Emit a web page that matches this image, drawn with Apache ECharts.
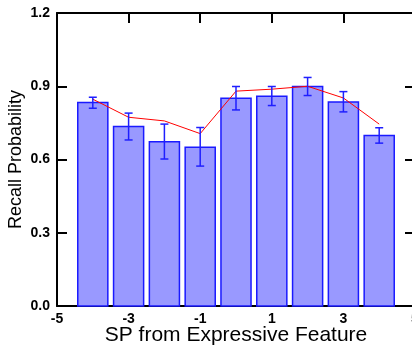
<!DOCTYPE html>
<html>
<head>
<meta charset="utf-8">
<script src="https://cdn.jsdelivr.net/npm/echarts@6/dist/echarts.min.js"></script>
<style>
  html, body { margin: 0; padding: 0; background: #fff; }
  #chart { width: 412px; height: 347px; }
</style>
</head>
<body>
<div id="chart"></div>
<script>
// Serial position relative to the expressive feature
const positions = [-4, -3, -2, -1, 0, 1, 2, 3, 4];
// Mean recall probability per position (bars)
const recall = [0.833, 0.735, 0.673, 0.650, 0.851, 0.859, 0.899, 0.836, 0.698];
// Error bar bounds
const errLow = [0.810, 0.680, 0.602, 0.573, 0.803, 0.821, 0.862, 0.795, 0.667];
const errHigh = [0.855, 0.790, 0.745, 0.731, 0.899, 0.899, 0.936, 0.878, 0.730];
// Model prediction (red line)
const model = [0.847, 0.773, 0.758, 0.706, 0.880, 0.888, 0.900, 0.852, 0.745];

const barData = positions.map((x, i) => [x, recall[i]]);
const errData = positions.map((x, i) => [x, errLow[i], errHigh[i]]);
const lineData = positions.map((x, i) => [x, model[i]]);

const chart = echarts.init(document.getElementById('chart'), null, { renderer: 'canvas' });

const tickLabel = { fontFamily: 'Liberation Sans', fontWeight: 'bold', fontSize: 14, color: '#000' };
const axisLine = { show: true, onZero: false, lineStyle: { color: '#000', width: 2 } };
const axisTick = { show: true, inside: true, length: 10, lineStyle: { color: '#000', width: 2 } };

chart.setOption({
  animation: false,
  grid: { left: 57, right: -3, top: 13, bottom: 41, containLabel: false, outerBoundsMode: 'none' },
  xAxis: [
    {
      type: 'value', position: 'bottom', min: -5, max: 5, interval: 2,
      axisLine, axisTick, splitLine: { show: false },
      axisLabel: Object.assign({ margin: 6, hideOverlap: false }, tickLabel),
      name: 'SP from Expressive Feature', nameLocation: 'middle', nameGap: 19,
      nameMoveOverlap: false,
      nameTextStyle: { fontFamily: 'Liberation Sans', fontSize: 21, color: '#000' }
    },
    {
      type: 'value', position: 'top', min: -5, max: 5, interval: 2,
      axisLine, axisTick, splitLine: { show: false }, axisLabel: { show: false }
    }
  ],
  yAxis: [
    {
      type: 'value', position: 'left', min: 0, max: 1.2, interval: 0.3,
      axisLine, axisTick, splitLine: { show: false },
      axisLabel: Object.assign({ margin: 7, formatter: v => v.toFixed(1) }, tickLabel),
      name: 'Recall Probability', nameLocation: 'middle', nameGap: 32,
      nameMoveOverlap: false,
      nameTextStyle: { fontFamily: 'Liberation Sans', fontSize: 18, color: '#000' }
    },
    {
      type: 'value', position: 'right', min: 0, max: 1.2, interval: 0.3,
      axisLine, axisTick, splitLine: { show: false }, axisLabel: { show: false }
    }
  ],
  series: [
    {
      type: 'custom',
      name: 'bars',
      data: barData,
      renderItem(params, api) {
        const x = api.value(0), y = api.value(1);
        const p0 = api.coord([x - 0.42, y]);
        const p1 = api.coord([x + 0.42, 0]);
        return {
          type: 'rect',
          shape: { x: p0[0], y: p0[1], width: p1[0] - p0[0], height: p1[1] - p0[1] },
          style: { fill: '#9999ff', stroke: '#1a1aff', lineWidth: 1.5 }
        };
      },
      z: 2
    },
    {
      type: 'line',
      name: 'model',
      data: lineData,
      symbol: 'none',
      lineStyle: { color: '#ff0000', width: 1 },
      z: 3
    },
    {
      type: 'custom',
      name: 'errors',
      data: errData,
      renderItem(params, api) {
        const x = api.value(0);
        const lo = api.coord([x, api.value(1)]);
        const hi = api.coord([x, api.value(2)]);
        const cap = 4;
        const style = { stroke: '#1f1fff', lineWidth: 1.5 };
        return {
          type: 'group',
          children: [
            { type: 'line', shape: { x1: hi[0], y1: hi[1], x2: lo[0], y2: lo[1] }, style },
            { type: 'line', shape: { x1: hi[0] - cap, y1: hi[1], x2: hi[0] + cap, y2: hi[1] }, style },
            { type: 'line', shape: { x1: lo[0] - cap, y1: lo[1], x2: lo[0] + cap, y2: lo[1] }, style }
          ]
        };
      },
      z: 4
    }
  ]
});
</script>
</body>
</html>
